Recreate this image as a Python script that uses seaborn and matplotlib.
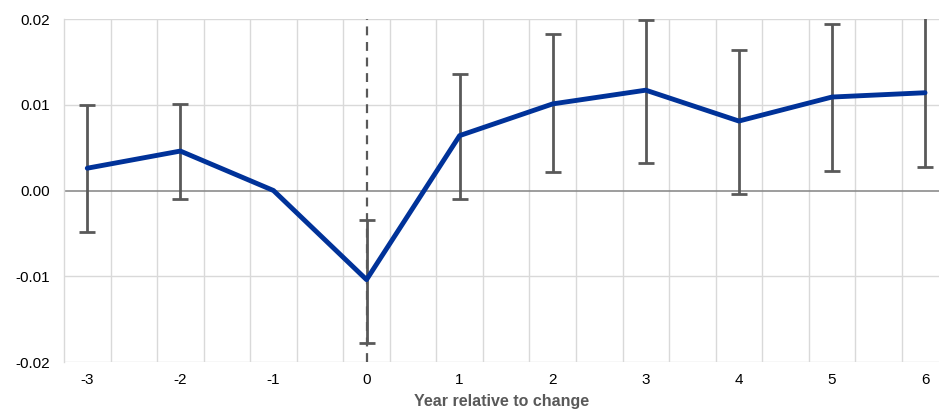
import matplotlib
matplotlib.use("Agg")
import matplotlib.pyplot as plt
import seaborn as sns
import numpy as np
import pandas as pd

years = [-3, -2, -1, 0, 1, 2, 3, 4, 5, 6]
estimate = [0.0026, 0.0046, 0.0000, -0.0104, 0.0064, 0.0101, 0.0117, 0.0081, 0.0109, 0.0114]
upper = [0.0100, 0.0101, np.nan, -0.0034, 0.0136, 0.0182, 0.0199, 0.0164, 0.0194, 0.0202]
lower = [-0.0048, -0.0010, np.nan, -0.0178, -0.0010, 0.0021, 0.0032, -0.0004, 0.0023, 0.0027]
yticks = [-0.02, -0.01, 0.00, 0.01, 0.02]
ytick_labels = ["-0.02", "-0.01", "0.00", "0.01", "0.02"]
xlabel = "Year relative to change"

df = pd.DataFrame({"year": years, "est": estimate, "lo": lower, "hi": upper})

sns.set_theme(style="white")
plt.rcParams["font.family"] = ["Liberation Sans", "DejaVu Sans"]

fig = plt.figure(figsize=(9.39, 4.12), dpi=100)
ax = fig.add_axes([64/939, 50/412, 1 - 64/939, 343/412])

grid_c = "#d9d9d9"
# vertical gridlines at half-unit offsets
for gx in np.arange(-2.75, 6.0, 0.5):
    ax.axvline(gx, color=grid_c, lw=1, zorder=0)
for gy in [-0.02, -0.01, 0.01, 0.02]:
    ax.axhline(gy, color=grid_c, lw=1, zorder=0)
ax.axhline(0, color="#8c8c8c", lw=1.2, zorder=1)
ax.axvline(0, color="#595959", lw=1.6, ls=(0, (4, 3)), zorder=2)

# error bars
m = df["lo"].notna()
ax.errorbar(df.loc[m, "year"], df.loc[m, "est"],
            yerr=[df.loc[m, "est"] - df.loc[m, "lo"], df.loc[m, "hi"] - df.loc[m, "est"]],
            fmt="none", ecolor="#595959", elinewidth=2, capsize=6, capthick=2, zorder=3)

sns.lineplot(data=df, x="year", y="est", color="#003299", lw=3.5, ax=ax, zorder=4,
             solid_joinstyle="round", solid_capstyle="round")

ax.set_xlim(-3.25, 6.15)
ax.set_ylim(-0.02, 0.02)
ax.set_xticks(years)
ax.set_xticklabels([str(y) for y in years])
ax.set_yticks(yticks)
ax.set_yticklabels(ytick_labels)
ax.tick_params(axis="both", length=0, labelsize=11, colors="#000000")
ax.tick_params(axis="x", pad=8)
ax.tick_params(axis="y", pad=10)
ax.set_ylabel("")
ax.set_xlabel(xlabel, fontsize=11.5, fontweight="bold", color="#595959", labelpad=5)

for s in ["top", "right", "bottom"]:
    ax.spines[s].set_visible(False)
ax.spines["left"].set_color(grid_c)
ax.spines["left"].set_linewidth(1)

fig.savefig("out.png", dpi=100)
